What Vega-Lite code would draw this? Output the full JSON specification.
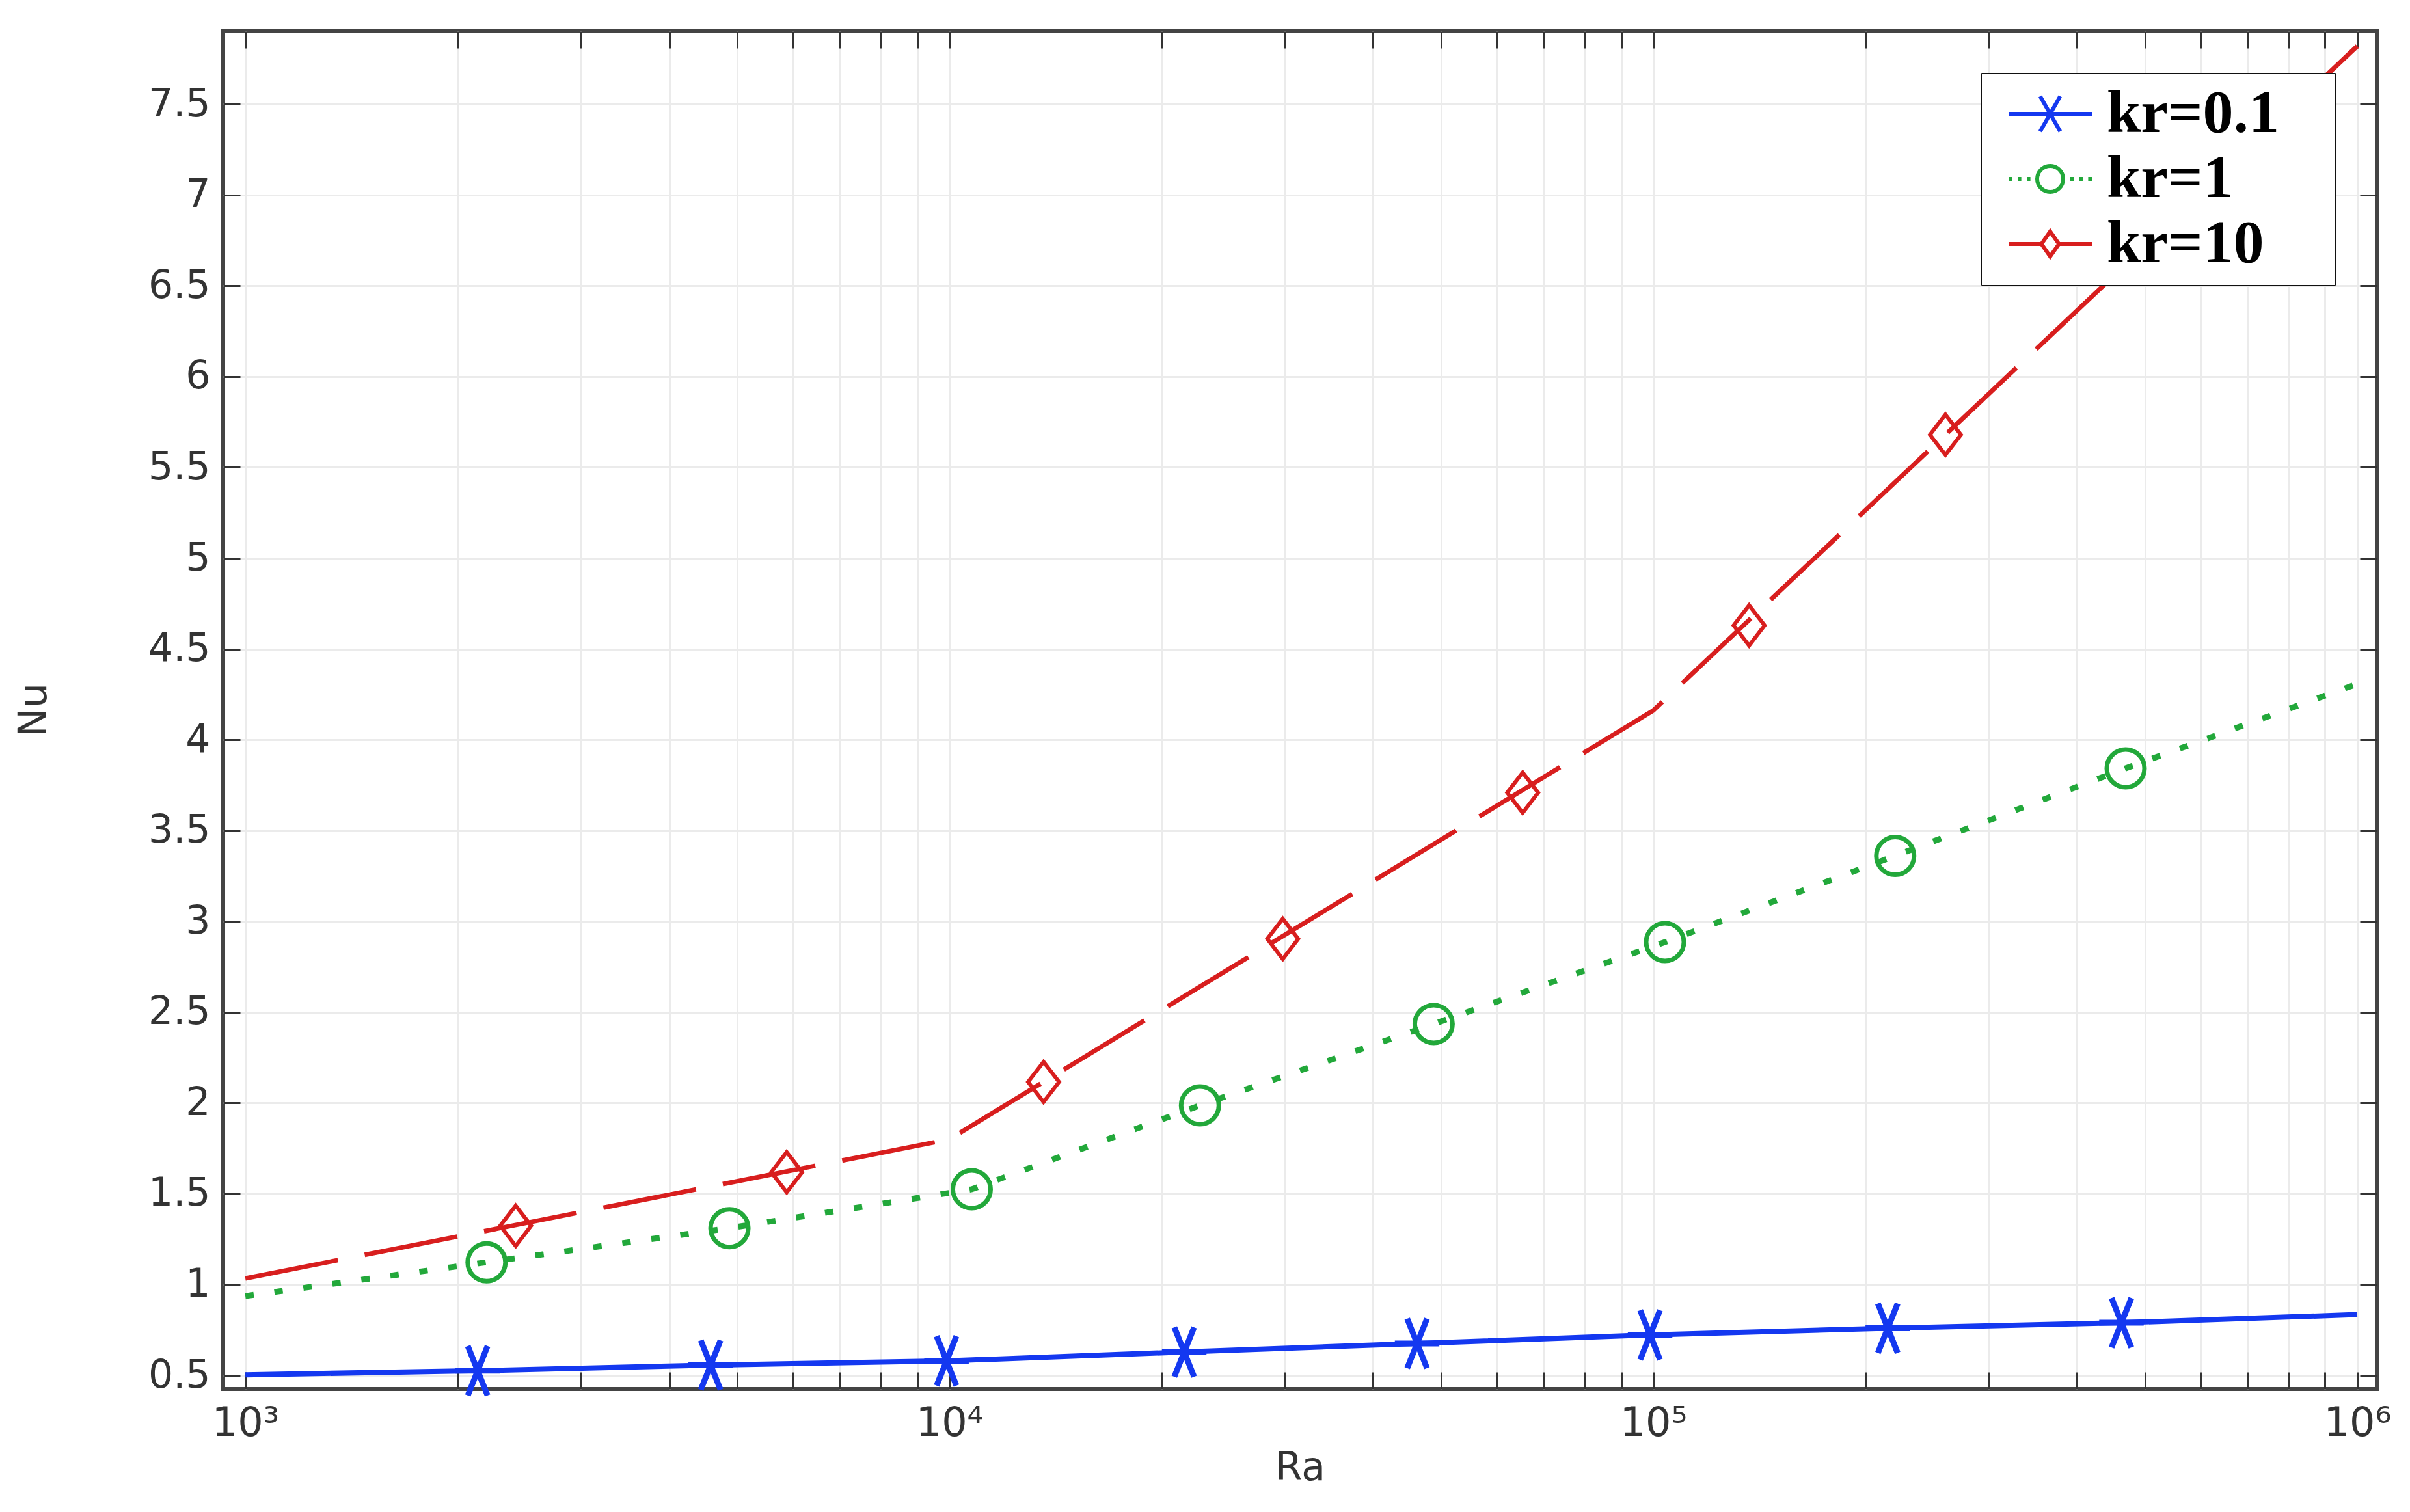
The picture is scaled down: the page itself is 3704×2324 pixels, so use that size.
{
  "$schema": "https://vega.github.io/schema/vega-lite/v6.json",
  "width": 3310,
  "height": 2087,
  "autosize": {"type": "none"},
  "padding": {"left": 343, "top": 48, "right": 51, "bottom": 189},
  "background": "white",
  "config": {
    "view": {"stroke": "#444444", "strokeWidth": 6},
    "font": "DejaVu Sans"
  },
  "datasets": {
    "curves": [
      {"series": "kr=0.1", "Ra": 1000, "Nu": 0.503},
      {"series": "kr=0.1", "Ra": 2138, "Nu": 0.526},
      {"series": "kr=0.1", "Ra": 4581, "Nu": 0.557},
      {"series": "kr=0.1", "Ra": 9908, "Nu": 0.58},
      {"series": "kr=0.1", "Ra": 21560, "Nu": 0.629},
      {"series": "kr=0.1", "Ra": 46180, "Nu": 0.676},
      {"series": "kr=0.1", "Ra": 98950, "Nu": 0.723},
      {"series": "kr=0.1", "Ra": 215300, "Nu": 0.76},
      {"series": "kr=0.1", "Ra": 462400, "Nu": 0.79},
      {"series": "kr=0.1", "Ra": 1000000, "Nu": 0.835},
      {"series": "kr=1", "Ra": 1000, "Nu": 0.937},
      {"series": "kr=1", "Ra": 2201, "Nu": 1.123},
      {"series": "kr=1", "Ra": 4871, "Nu": 1.311},
      {"series": "kr=1", "Ra": 10760, "Nu": 1.525},
      {"series": "kr=1", "Ra": 22700, "Nu": 1.987},
      {"series": "kr=1", "Ra": 48750, "Nu": 2.435},
      {"series": "kr=1", "Ra": 103900, "Nu": 2.886},
      {"series": "kr=1", "Ra": 220600, "Nu": 3.361},
      {"series": "kr=1", "Ra": 468800, "Nu": 3.843},
      {"series": "kr=1", "Ra": 1000000, "Nu": 4.308},
      {"series": "kr=10", "Ra": 1000, "Nu": 1.034},
      {"series": "kr=10", "Ra": 10000, "Nu": 1.8},
      {"series": "kr=10", "Ra": 100000, "Nu": 4.162},
      {"series": "kr=10", "Ra": 1000000, "Nu": 7.82}
    ],
    "markers": [
      {"series": "kr=0.1", "Ra": 2138, "Nu": 0.526},
      {"series": "kr=0.1", "Ra": 4581, "Nu": 0.557},
      {"series": "kr=0.1", "Ra": 9908, "Nu": 0.58},
      {"series": "kr=0.1", "Ra": 21560, "Nu": 0.629},
      {"series": "kr=0.1", "Ra": 46180, "Nu": 0.676},
      {"series": "kr=0.1", "Ra": 98950, "Nu": 0.723},
      {"series": "kr=0.1", "Ra": 215300, "Nu": 0.76},
      {"series": "kr=0.1", "Ra": 462400, "Nu": 0.79},
      {"series": "kr=1", "Ra": 2201, "Nu": 1.123},
      {"series": "kr=1", "Ra": 4871, "Nu": 1.311},
      {"series": "kr=1", "Ra": 10760, "Nu": 1.525},
      {"series": "kr=1", "Ra": 22700, "Nu": 1.987},
      {"series": "kr=1", "Ra": 48750, "Nu": 2.435},
      {"series": "kr=1", "Ra": 103900, "Nu": 2.886},
      {"series": "kr=1", "Ra": 220600, "Nu": 3.361},
      {"series": "kr=1", "Ra": 468800, "Nu": 3.843},
      {"series": "kr=10", "Ra": 2421, "Nu": 1.324},
      {"series": "kr=10", "Ra": 5875, "Nu": 1.619},
      {"series": "kr=10", "Ra": 13610, "Nu": 2.116},
      {"series": "kr=10", "Ra": 29760, "Nu": 2.904},
      {"series": "kr=10", "Ra": 65230, "Nu": 3.709},
      {"series": "kr=10", "Ra": 136800, "Nu": 4.63},
      {"series": "kr=10", "Ra": 260000, "Nu": 5.68}
    ]
  },
  "layer": [
    {
      "data": {"name": "curves"},
      "transform": [{"filter": "datum.series === 'kr=0.1'"}],
      "mark": {"type": "line", "strokeWidth": 8, "color": "#1438f0"},
      "encoding": {
        "x": {
          "field": "Ra", "type": "quantitative",
          "scale": {"type": "log", "domain": [930, 1066000], "nice": false},
          "axis": {
            "orient": "bottom", "title": "Ra",
            "values": [1000,2000,3000,4000,5000,6000,7000,8000,9000,10000,20000,30000,40000,50000,60000,70000,80000,90000,100000,200000,300000,400000,500000,600000,700000,800000,900000,1000000],
            "labelExpr": "datum.value == 1000 ? '10³' : datum.value == 10000 ? '10⁴' : datum.value == 100000 ? '10⁵' : datum.value == 1000000 ? '10⁶' : ''",
            "labelOverlap": false, "labelFlush": false,
            "labelFont": "DejaVu Sans", "labelFontSize": 62, "labelColor": "#333333",
            "labelPadding": 48, "labelBaseline": "top",
            "tickSize": -26, "tickWidth": 3, "tickColor": "#333333",
            "domain": false,
            "grid": true, "gridColor": "#ebebeb", "gridWidth": 3,
            "titleFont": "DejaVu Sans", "titleFontSize": 60, "titleFontWeight": "normal", "titleColor": "#333333",
            "titleX": 1655, "titleY": 121, "titleBaseline": "middle", "titleAlign": "center"
          }
        },
        "y": {
          "field": "Nu", "type": "quantitative",
          "scale": {"domain": [0.425, 7.902], "nice": false, "zero": false},
          "axis": {
            "orient": "left", "title": "Nu",
            "values": [0.5,1,1.5,2,2.5,3,3.5,4,4.5,5,5.5,6,6.5,7,7.5],
            "format": "~g",
            "labelFont": "DejaVu Sans", "labelFontSize": 60, "labelColor": "#333333",
            "labelPadding": 46,
            "tickSize": -26, "tickWidth": 3, "tickColor": "#333333",
            "domain": false,
            "grid": true, "gridColor": "#ebebeb", "gridWidth": 3,
            "titleFont": "DejaVu Sans", "titleFontSize": 60, "titleFontWeight": "normal", "titleColor": "#333333",
            "titleX": -291, "titleY": 1043, "titleBaseline": "middle", "titleAlign": "center", "titleAngle": -90
          }
        }
      }
    },
    {
      "data": {"name": "curves"},
      "transform": [{"filter": "datum.series === 'kr=1'"}],
      "mark": {"type": "line", "strokeWidth": 9, "strokeDash": [13, 32], "color": "#22a83a"},
      "encoding": {
        "x": {"field": "Ra", "type": "quantitative", "axis": null},
        "y": {"field": "Nu", "type": "quantitative", "axis": null}
      }
    },
    {
      "data": {"name": "curves"},
      "transform": [{"filter": "datum.series === 'kr=10'"}],
      "mark": {"type": "line", "strokeWidth": 7, "strokeDash": [145, 42], "color": "#d81e1e"},
      "encoding": {
        "x": {"field": "Ra", "type": "quantitative", "axis": null},
        "y": {"field": "Nu", "type": "quantitative", "axis": null}
      }
    },
    {
      "data": {"name": "markers"},
      "transform": [{"filter": "datum.series === 'kr=0.1'"}],
      "mark": {"type": "point", "filled": false, "strokeWidth": 9, "opacity": 1, "size": 5776, "color": "#1438f0", "shape": "M-0.9,0L0.9,0M-0.4,-1L0.4,1M-0.4,1L0.4,-1"},
      "encoding": {
        "x": {"field": "Ra", "type": "quantitative", "axis": null},
        "y": {"field": "Nu", "type": "quantitative", "axis": null}
      }
    },
    {
      "data": {"name": "markers"},
      "transform": [{"filter": "datum.series === 'kr=1'"}],
      "mark": {"type": "point", "filled": false, "strokeWidth": 7, "opacity": 1, "size": 4624, "color": "#22a83a", "shape": "M0.853,0A0.853,0.853,0,1,1,-0.853,0A0.853,0.853,0,1,1,0.853,0Z"},
      "encoding": {
        "x": {"field": "Ra", "type": "quantitative", "axis": null},
        "y": {"field": "Nu", "type": "quantitative", "axis": null}
      }
    },
    {
      "data": {"name": "markers"},
      "transform": [{"filter": "datum.series === 'kr=10'"}],
      "mark": {"type": "point", "filled": false, "strokeWidth": 6, "opacity": 1, "size": 4624, "color": "#d81e1e", "shape": "M0,-0.91L0.7,0L0,0.91L-0.7,0Z"},
      "encoding": {
        "x": {"field": "Ra", "type": "quantitative", "axis": null},
        "y": {"field": "Nu", "type": "quantitative", "axis": null}
      }
    },
    {
      "data": {"name": "markers"},
      "transform": [{"filter": "false"}],
      "mark": {"type": "point", "filled": false, "strokeWidth": 6, "opacity": 1},
      "encoding": {
        "x": {
          "field": "Ra", "type": "quantitative",
          "axis": {
            "orient": "top", "title": null, "labels": false, "grid": false, "domain": false,
            "values": [1000,2000,3000,4000,5000,6000,7000,8000,9000,10000,20000,30000,40000,50000,60000,70000,80000,90000,100000,200000,300000,400000,500000,600000,700000,800000,900000,1000000],
            "tickSize": -26, "tickWidth": 3, "tickColor": "#333333"
          }
        },
        "y": {
          "field": "Nu", "type": "quantitative",
          "axis": {
            "orient": "right", "title": null, "labels": false, "grid": false, "domain": false,
            "values": [0.5,1,1.5,2,2.5,3,3.5,4,4.5,5,5.5,6,6.5,7,7.5],
            "tickSize": -26, "tickWidth": 3, "tickColor": "#333333"
          }
        },
        "color": {
          "field": "series", "type": "nominal",
          "scale": {"domain": ["kr=0.1", "kr=1", "kr=10"], "range": ["#1438f0", "#22a83a", "#d81e1e"]},
          "legend": {
            "title": null,
            "orient": "top-right", "offset": 64,
            "fillColor": "white", "strokeColor": "#111111",
            "padding": 16,
            "labelFont": "Liberation Serif", "labelFontSize": 94, "labelFontWeight": "bold", "labelColor": "black",
            "labelOffset": 40, "labelLimit": 2000,
            "labelExpr": "datum.label + '\u2800'",
            "symbolSize": 6400, "symbolStrokeWidth": 6, "symbolOffset": 43,
            "rowPadding": 6,
            "encode": {"legend": {"update": {"strokeWidth": {"value": 5}}}}
          }
        },
        "shape": {
          "field": "series", "type": "nominal",
          "scale": {
            "domain": ["kr=0.1", "kr=1", "kr=10"],
            "range": [
              "M-1.6,0L1.6,0M-0.385,-0.675L0.385,0.675M-0.385,0.675L0.385,-0.675",
              "M-1.6,0L-1.46,0M-1.25,0L-1.11,0M-0.9,0L-0.76,0M0.76,0L0.9,0M1.11,0L1.25,0M1.46,0L1.6,0M0.5,0A0.5,0.5,0,1,1,-0.5,0A0.5,0.5,0,1,1,0.5,0",
              "M-1.6,0L-0.336,0M0.336,0L1.6,0M0,-0.48L0.336,0L0,0.48L-0.336,0Z"
            ]
          },
          "legend": {
            "title": null,
            "orient": "top-right", "offset": 64,
            "fillColor": "white", "strokeColor": "#111111",
            "padding": 16,
            "labelFont": "Liberation Serif", "labelFontSize": 94, "labelFontWeight": "bold", "labelColor": "black",
            "labelOffset": 40, "labelLimit": 2000,
            "labelExpr": "datum.label + '\u2800'",
            "symbolSize": 6400, "symbolStrokeWidth": 6, "symbolOffset": 43,
            "rowPadding": 6,
            "encode": {"legend": {"update": {"strokeWidth": {"value": 5}}}}
          }
        }
      }
    }
  ],
  "resolve": {"axis": {"x": "independent", "y": "independent"}}
}
